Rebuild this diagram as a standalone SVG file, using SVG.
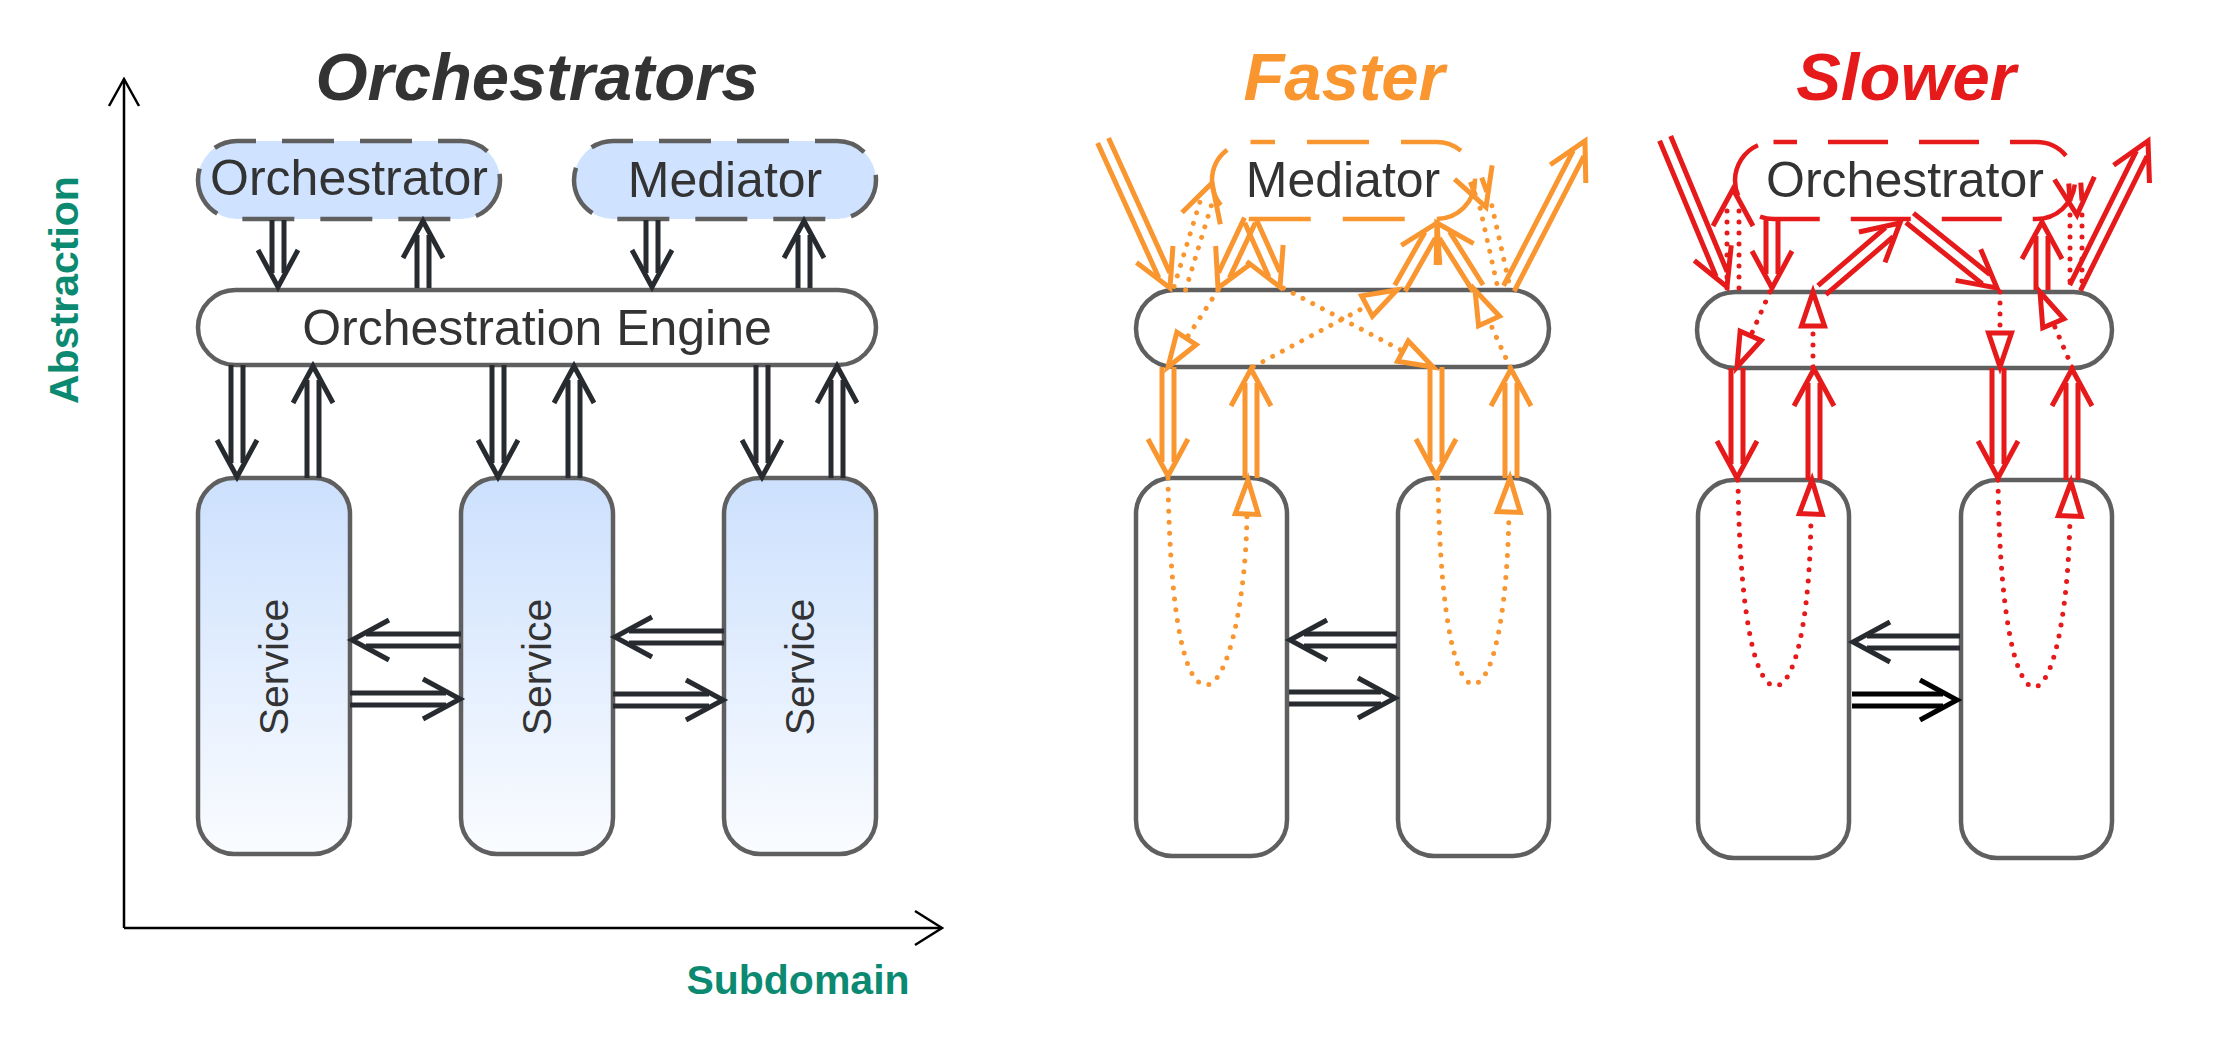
<svg xmlns="http://www.w3.org/2000/svg" width="2214" height="1041" viewBox="0 0 2214 1041">
<defs>
<linearGradient id="svcGrad" x1="0" y1="0" x2="0" y2="1"><stop offset="0" stop-color="#cce0fd"/><stop offset="1" stop-color="#fafcff"/></linearGradient>
<path id="ch" d="M-37,-20L0,0L-37,20"/>
<path id="tri" d="M0,0L-34,-11.5L-34,11.5Z"/>
</defs>
<style>
.node{stroke:#5f5f5f;stroke-width:4.5}
.blue{fill:#cfe2ff}
.white{fill:#fff}
.lbl{font-family:"Liberation Sans",Arial,sans-serif;font-size:50px;fill:#333;text-anchor:middle}
.svc{font-size:41px}
.title{font-family:"Liberation Sans",Arial,sans-serif;font-size:67px;font-weight:bold;font-style:italic;text-anchor:middle}
.axl{font-family:"Liberation Sans",Arial,sans-serif;font-size:41px;font-weight:bold;fill:#0b8a71;text-anchor:middle}
.da{fill:none;stroke-width:5;stroke-linejoin:miter}
.dot{stroke-dasharray:0 11;stroke-linecap:round}
.tri{fill:#fff}
.dk{stroke:#272b30}.or{stroke:#f9962f}.rd{stroke:#e61a1a}.bk{stroke:#000}
</style>
<rect width="2214" height="1041" fill="#fff"/>

<!-- titles -->
<text class="title" x="537" y="100" fill="#333">Orchestrators</text>
<text class="title" x="1344" y="100" fill="#f9962f">Faster</text>
<text class="title" x="1906" y="100" fill="#e61a1a">Slower</text>

<!-- axes -->
<g id="axes" fill="none" stroke="#000" stroke-width="2.5">
<path d="M124,928V79"/><path d="M109,106L124,79L139,106"/>
<path d="M124,928H942"/><path d="M915,911L942,928L915,945"/>
</g>
<text class="axl" transform="translate(78,290) rotate(-90)" x="0" y="0">Abstraction</text>
<text class="axl" x="798" y="994">Subdomain</text>

<!-- left panel nodes -->
<g id="n-orch-l"><rect class="node blue" x="198" y="141" width="302" height="78" rx="39" stroke-dasharray="52 26" stroke-dashoffset="33"/><text class="lbl" x="349" y="195">Orchestrator</text></g>
<g id="n-med-l"><rect class="node blue" x="574" y="141" width="302" height="78" rx="39" stroke-dasharray="52 26" stroke-dashoffset="32"/><text class="lbl" x="725" y="197">Mediator</text></g>
<g id="n-engine-l"><rect class="node white" x="198" y="290" width="678" height="75" rx="37.5"/><text class="lbl" x="537" y="345">Orchestration Engine</text></g>
<g id="n-svc-l1"><rect class="node" fill="url(#svcGrad)" x="198" y="478" width="152" height="376" rx="36"/><text class="lbl svc" transform="translate(288,667) rotate(-90)">Service</text></g>
<g id="n-svc-l2"><rect class="node" fill="url(#svcGrad)" x="461" y="478" width="152" height="376" rx="36"/><text class="lbl svc" transform="translate(551,667) rotate(-90)">Service</text></g>
<g id="n-svc-l3"><rect class="node" fill="url(#svcGrad)" x="724" y="478" width="152" height="376" rx="36"/><text class="lbl svc" transform="translate(814,667) rotate(-90)">Service</text></g>

<!-- faster panel nodes -->
<g id="n-engine-f"><rect class="node white" x="1136" y="290" width="413" height="77" rx="38.5"/></g>
<g id="n-svc-f1"><rect class="node white" x="1136" y="478" width="151" height="378" rx="36"/></g>
<g id="n-svc-f2"><rect class="node white" x="1398" y="478" width="151" height="378" rx="36"/></g>
<g id="n-med-f"><rect x="1212" y="142" width="263" height="77" rx="38.5" fill="#fff" stroke="#f9962f" stroke-width="4.5" stroke-dasharray="62 32" stroke-dashoffset="37.5"/><text class="lbl" x="1343" y="197">Mediator</text></g>

<!-- slower panel nodes -->
<g id="n-engine-s"><rect class="node white" x="1697" y="292" width="415" height="76" rx="38"/></g>
<g id="n-svc-s1"><rect class="node white" x="1698" y="480" width="151" height="378" rx="36"/></g>
<g id="n-svc-s2"><rect class="node white" x="1961" y="480" width="151" height="378" rx="36"/></g>
<g id="n-orch-s"><rect x="1735" y="142" width="340" height="77" rx="38.5" fill="#fff" stroke="#e61a1a" stroke-width="4.5" stroke-dasharray="60 31" stroke-dashoffset="36.5"/><text class="lbl" x="1905" y="197">Orchestrator</text></g>

<g id="connectors">
<!-- left panel -->
<g class="da dk" transform="translate(278,287) rotate(90)"><path d="M-67,-6H-14M-67,6H-14"/><use href="#ch"/></g>
<g class="da dk" transform="translate(423,221) rotate(-90)"><path d="M-67,-6H-14M-67,6H-14"/><use href="#ch"/></g>
<g class="da dk" transform="translate(652,287) rotate(90)"><path d="M-67,-6H-14M-67,6H-14"/><use href="#ch"/></g>
<g class="da dk" transform="translate(804,221) rotate(-90)"><path d="M-67,-6H-14M-67,6H-14"/><use href="#ch"/></g>
<g class="da dk" transform="translate(237,477) rotate(90)"><path d="M-112,-6H-14M-112,6H-14"/><use href="#ch"/></g>
<g class="da dk" transform="translate(313,366) rotate(-90)"><path d="M-112,-6H-14M-112,6H-14"/><use href="#ch"/></g>
<g class="da dk" transform="translate(498,477) rotate(90)"><path d="M-112,-6H-14M-112,6H-14"/><use href="#ch"/></g>
<g class="da dk" transform="translate(574,366) rotate(-90)"><path d="M-112,-6H-14M-112,6H-14"/><use href="#ch"/></g>
<g class="da dk" transform="translate(762,477) rotate(90)"><path d="M-112,-6H-14M-112,6H-14"/><use href="#ch"/></g>
<g class="da dk" transform="translate(837,366) rotate(-90)"><path d="M-112,-6H-14M-112,6H-14"/><use href="#ch"/></g>
<g class="da dk" transform="translate(352,640) rotate(180)"><path d="M-109,-6H-14M-109,6H-14"/><use href="#ch"/></g>
<g class="da dk" transform="translate(460,699) rotate(0)"><path d="M-110,-6H-14M-110,6H-14"/><use href="#ch"/></g>
<g class="da dk" transform="translate(615,637) rotate(180)"><path d="M-109,-6H-14M-109,6H-14"/><use href="#ch"/></g>
<g class="da dk" transform="translate(723,700) rotate(0)"><path d="M-110,-6H-14M-110,6H-14"/><use href="#ch"/></g>

<!-- faster panel -->
<g class="da or" transform="translate(1170,288) rotate(65.6)"><path d="M-162,-6H-14M-162,6H-14"/><use href="#ch"/></g>
<g class="da or" transform="translate(1585,141) rotate(-62.7)"><path d="M-166,-6H-14M-166,6H-14"/><use href="#ch"/></g>
<g class="da or" transform="translate(1218,288) rotate(115.2)"><path d="M-75,-6H-14M-75,6H-14"/><use href="#ch"/></g>
<g class="da or" transform="translate(1280,287) rotate(65.9)"><path d="M-73,-6H-14M-73,6H-14"/><use href="#ch"/></g>
<g class="da or" transform="translate(1437,223) rotate(-60.4)"><path d="M-75,-6H-14M-75,6H-14"/><use href="#ch"/></g>
<g class="da or" transform="translate(1437,223) rotate(-122.2)"><path d="M-77,-6H-14M-77,6H-14"/><use href="#ch"/></g>
<g class="da or" transform="translate(1168,476) rotate(90)"><path d="M-109,-6H-14M-109,6H-14"/><use href="#ch"/></g>
<g class="da or" transform="translate(1251,369) rotate(-90)"><path d="M-109,-6H-14M-109,6H-14"/><use href="#ch"/></g>
<g class="da or" transform="translate(1436,476) rotate(90)"><path d="M-109,-6H-14M-109,6H-14"/><use href="#ch"/></g>
<g class="da or" transform="translate(1511,369) rotate(-90)"><path d="M-109,-6H-14M-109,6H-14"/><use href="#ch"/></g>
<g class="da dk" transform="translate(1290,640) rotate(180)"><path d="M-107,-6H-14M-107,6H-14"/><use href="#ch"/></g>
<g class="da dk" transform="translate(1395,698) rotate(0)"><path d="M-106,-6H-14M-106,6H-14"/><use href="#ch"/></g>
<g class="da or" transform="translate(1212,183) rotate(-73)"><path class="dot" d="M-110,-6H-14M-110,6H-14"/><use href="#ch"/></g>
<g class="da or" transform="translate(1486,207) rotate(70)"><path d="M-29,-6H-14M-29,6H-14"/><use href="#ch"/></g>
<g class="da or" transform="translate(1504,288) rotate(77.5)"><path class="dot" d="M-83,-6H-4M-83,6H-4"/></g>
<g class="da or" transform="translate(1168,367) rotate(123)"><path class="dot" d="M-92,0H-34"/><use href="#tri" class="tri"/></g>
<g class="da or" transform="translate(1433,367) rotate(27.8)"><path class="dot" d="M-169,0H-34"/><use href="#tri" class="tri"/></g>
<g class="da or" transform="translate(1397,290) rotate(-28.1)"><path class="dot" d="M-163,0H-34"/><use href="#tri" class="tri"/></g>
<g class="da or" transform="translate(1475,290) rotate(-114.4)"><path class="dot" d="M-85,0H-34"/><use href="#tri" class="tri"/></g>
<path class="da or dot" d="M1168,478C1170,620 1185,685 1206,685C1228,685 1246,600 1247,514"/>
<g class="da or" transform="translate(1248,480) rotate(-88)"><use href="#tri" class="tri"/></g>
<path class="da or dot" d="M1438,478C1440,630 1458,684 1473,684C1492,684 1507,620 1509,512"/>
<g class="da or" transform="translate(1510,478) rotate(-88)"><use href="#tri" class="tri"/></g>

<!-- slower panel -->
<g class="da rd" transform="translate(1727,287) rotate(67.4)"><path d="M-161,-6H-14M-161,6H-14"/><use href="#ch"/></g>
<g class="da rd" transform="translate(1772,288) rotate(90)"><path d="M-68,-6H-14M-68,6H-14"/><use href="#ch"/></g>
<g class="da rd" transform="translate(1900,223) rotate(-40.7)"><path d="M-103,-6H-14M-103,6H-14"/><use href="#ch"/></g>
<g class="da rd" transform="translate(1997,288) rotate(38.8)"><path d="M-112,-6H-14M-112,6H-14"/><use href="#ch"/></g>
<g class="da rd" transform="translate(2042,222) rotate(-90)"><path d="M-68,-6H-14M-68,6H-14"/><use href="#ch"/></g>
<g class="da rd" transform="translate(2148,141) rotate(-63.6)"><path d="M-164,-6H-14M-164,6H-14"/><use href="#ch"/></g>
<g class="da rd" transform="translate(1737,478) rotate(90)"><path d="M-110,-6H-14M-110,6H-14"/><use href="#ch"/></g>
<g class="da rd" transform="translate(1814,369) rotate(-90)"><path d="M-111,-6H-14M-111,6H-14"/><use href="#ch"/></g>
<g class="da rd" transform="translate(1998,478) rotate(90)"><path d="M-110,-6H-14M-110,6H-14"/><use href="#ch"/></g>
<g class="da rd" transform="translate(2072,369) rotate(-90)"><path d="M-111,-6H-14M-111,6H-14"/><use href="#ch"/></g>
<g class="da dk" transform="translate(1853,642) rotate(180)"><path d="M-107,-6H-14M-107,6H-14"/><use href="#ch"/></g>
<g class="da bk" transform="translate(1957,700) rotate(0)"><path d="M-105,-6H-14M-105,6H-14"/><use href="#ch"/></g>
<g class="da rd" transform="translate(1733,189) rotate(-90)"><path class="dot" d="M-99,-6H-14M-99,6H-14"/><use href="#ch"/></g>
<g class="da rd" transform="translate(2077,215) rotate(86)"><path d="M-32,-6H-14M-32,6H-14"/><use href="#ch"/></g>
<g class="da rd" transform="translate(2076,288) rotate(90)"><path class="dot" d="M-73,-6H-4M-73,6H-4"/></g>
<g class="da rd" transform="translate(1737,367) rotate(113.7)"><path class="dot" d="M-82,0H-34"/><use href="#tri" class="tri"/></g>
<g class="da rd" transform="translate(1813,292) rotate(-90)"><path class="dot" d="M-75,0H-34"/><use href="#tri" class="tri"/></g>
<g class="da rd" transform="translate(2000,367) rotate(90)"><path class="dot" d="M-75,0H-34"/><use href="#tri" class="tri"/></g>
<g class="da rd" transform="translate(2040,292) rotate(-113.1)"><path class="dot" d="M-82,0H-34"/><use href="#tri" class="tri"/></g>
<path class="da rd dot" d="M1738,480C1740,640 1760,686 1775,686C1795,686 1810,620 1811,515"/>
<g class="da rd" transform="translate(1812,480) rotate(-88)"><use href="#tri" class="tri"/></g>
<path class="da rd dot" d="M1998,480C2000,640 2020,687 2034,687C2052,687 2068,620 2070,517"/>
<g class="da rd" transform="translate(2071,482) rotate(-88)"><use href="#tri" class="tri"/></g>
</g>
</svg>
